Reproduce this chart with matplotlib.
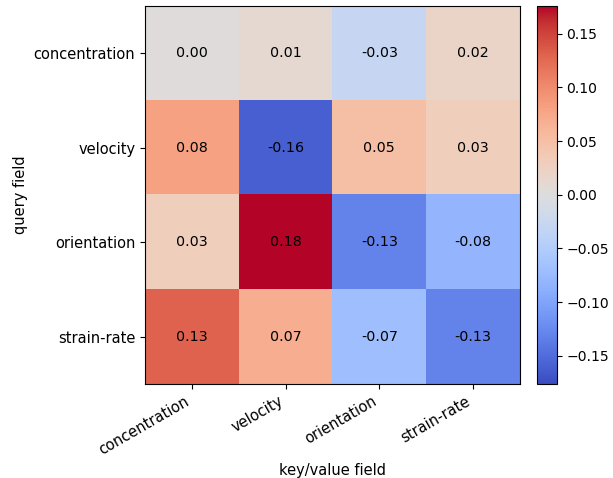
import numpy as np
import matplotlib
matplotlib.use("Agg")
import matplotlib.pyplot as plt

fields = ["concentration", "velocity", "orientation", "strain-rate"]

# attention weights (rows = query field, cols = key/value field)
row_concentration = [0.002, 0.012, -0.030, 0.020]
row_velocity = [0.080, -0.160, 0.050, 0.030]
row_orientation = [0.030, 0.176, -0.130, -0.080]
row_strain_rate = [0.130, 0.070, -0.070, -0.130]

data = np.array([row_concentration, row_velocity, row_orientation, row_strain_rate])
lim = np.abs(data).max()

fs = 10.5

fig = plt.figure(figsize=(6.13, 4.78), dpi=100)
ax = fig.add_axes([0.2365, 0.197, 0.6117, 0.791])
cax = fig.add_axes([0.876, 0.197, 0.032, 0.791])

im = ax.imshow(data, cmap="coolwarm", vmin=-lim, vmax=lim, aspect="auto")

for i in range(data.shape[0]):
    for j in range(data.shape[1]):
        ax.text(j, i, f"{data[i, j]:.2f}", ha="center", va="center", fontsize=10.3)

ax.set_xticks(range(len(fields)))
ax.set_xticklabels(fields, rotation=30, ha="right", fontsize=fs)
ax.set_yticks(range(len(fields)))
ax.set_yticklabels(fields, fontsize=fs)
ax.set_xlabel("key/value field", fontsize=fs)
ax.set_ylabel("query field", fontsize=fs)

cbar = fig.colorbar(im, cax=cax)
cbar.ax.tick_params(labelsize=10.1)

plt.savefig("out.png", dpi=100)
